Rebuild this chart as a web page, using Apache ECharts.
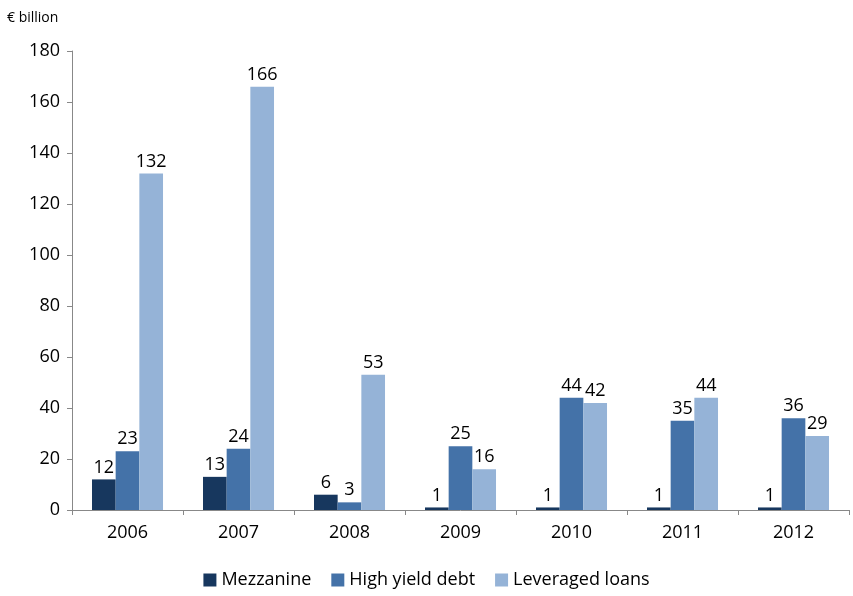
<!DOCTYPE html>
<html lang="en">
<head>
<meta charset="UTF-8">
<title>Chart</title>
<script src="https://cdn.jsdelivr.net/npm/echarts@6/dist/echarts.min.js"></script>
</head>
<body style="margin:0">
<div id="main" style="width:853px;height:596px;"></div>
<script type="text/javascript">
var years = ['2006', '2007', '2008', '2009', '2010', '2011', '2012'];
var mezzanine = [12, 13, 6, 1, 1, 1, 1];
var highYield = [23, 24, 3, 25, 44, 35, 36];
var leveraged = [132, 166, 53, 16, 42, 44, 29];

var font = 'Open Sans';
function bar(name, data, color) {
    return {
        name: name, type: 'bar', data: data, barGap: 0, barCategoryGap: '36%',
        itemStyle: {color: color},
        label: {show: true, position: 'top', color: '#000', fontSize: 18, fontFamily: font, distance: 3}
    };
}
var chart = echarts.init(document.getElementById('main'));
chart.setOption({
    animation: false,
    textStyle: {fontFamily: font},
    title: {text: '€ billion', left: 2, top: 6, textStyle: {fontSize: 14, fontWeight: 'normal', color: '#000'}},
    legend: {
        bottom: 2, itemWidth: 13, itemHeight: 13, itemGap: 20,
        icon: 'rect',
        textStyle: {fontSize: 18, color: '#000'}
    },
    grid: {left: 72, right: 4, top: 51, bottom: 86},
    xAxis: {
        type: 'category', data: years,
        axisLine: {lineStyle: {color: '#888'}},
        axisTick: {show: true, alignWithLabel: false, lineStyle: {color: '#888'}},
        axisLabel: {fontSize: 18, color: '#000', margin: 14}
    },
    yAxis: {
        type: 'value', min: 0, max: 180, interval: 20,
        axisLine: {show: true, lineStyle: {color: '#888'}},
        axisTick: {show: true, lineStyle: {color: '#888'}},
        splitLine: {show: false},
        axisLabel: {fontSize: 18, color: '#000', margin: 12}
    },
    series: [
        bar('Mezzanine', mezzanine, '#17375E'),
        bar('High yield debt', highYield, '#4472A8'),
        bar('Leveraged loans', leveraged, '#95B3D7')
    ]
});
</script>
</body>
</html>
